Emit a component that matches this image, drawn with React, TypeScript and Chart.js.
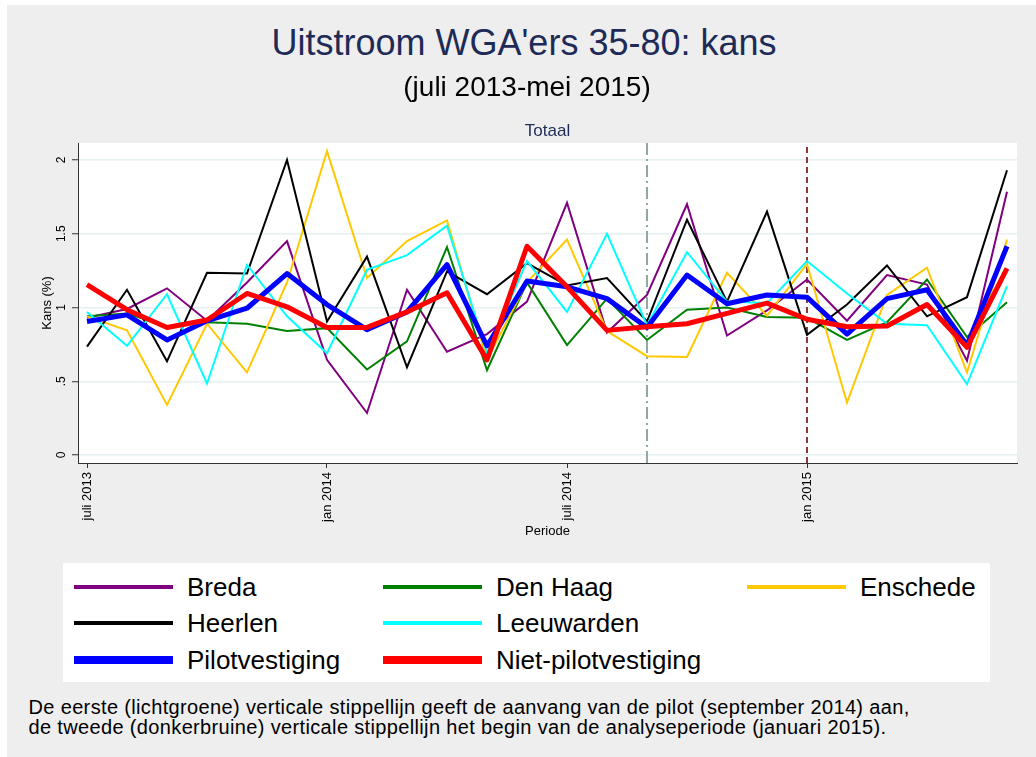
import React, { useEffect, useRef } from 'react';
import { Chart, registerables } from 'chart.js';

Chart.register(...registerables);

// ---------- data ----------
const periods = [
  'juli 2013', 'aug 2013', 'sep 2013', 'okt 2013', 'nov 2013', 'dec 2013',
  'jan 2014', 'feb 2014', 'mrt 2014', 'apr 2014', 'mei 2014', 'juni 2014',
  'juli 2014', 'aug 2014', 'sep 2014', 'okt 2014', 'nov 2014', 'dec 2014',
  'jan 2015', 'feb 2015', 'mrt 2015', 'apr 2015', 'mei 2015', 'juni 2015',
];

const breda = [0.93, 0.99, 1.13, 0.91, 1.17, 1.45, 0.645, 0.285, 1.12, 0.70, 0.82, 1.04,
  1.71, 0.83, 1.085, 1.70, 0.81, 0.98, 1.19, 0.91, 1.22, 1.155, 0.64, 1.785];
const denHaag = [0.94, 0.96, 0.87, 0.90, 0.89, 0.84, 0.86, 0.58, 0.77, 1.41, 0.575, 1.17,
  0.745, 1.06, 0.78, 0.985, 1.0, 0.935, 0.93, 0.78, 0.90, 1.19, 0.80, 1.035];
const enschede = [0.94, 0.845, 0.34, 0.89, 0.56, 1.17, 2.06, 1.20, 1.45, 1.59, 0.645, 1.17,
  1.46, 0.84, 0.67, 0.665, 1.235, 0.945, 1.295, 0.355, 1.085, 1.27, 0.56, 1.46];
const heerlen = [0.735, 1.12, 0.635, 1.235, 1.23, 2.0, 0.905, 1.345, 0.595, 1.245, 1.09, 1.30,
  1.15, 1.20, 0.905, 1.595, 1.04, 1.65, 0.815, 1.02, 1.285, 0.94, 1.07, 1.93];
const leeuwarden = [0.97, 0.74, 1.09, 0.485, 1.29, 0.94, 0.69, 1.255, 1.355, 1.555, 0.69, 1.315,
  0.97, 1.50, 0.88, 1.375, 1.04, 1.03, 1.315, 1.095, 0.89, 0.88, 0.48, 1.145];
const pilotvestiging = [0.905, 0.95, 0.78, 0.91, 0.995, 1.23, 1.02, 0.85, 0.97, 1.29, 0.74, 1.18,
  1.14, 1.06, 0.865, 1.22, 1.025, 1.085, 1.07, 0.82, 1.06, 1.12, 0.745, 1.415];
const nietPilotvestiging = [1.155, 0.985, 0.865, 0.915, 1.095, 1.005, 0.865, 0.865, 0.97, 1.10, 0.645, 1.415,
  1.14, 0.845, 0.87, 0.89, 0.96, 1.03, 0.92, 0.87, 0.875, 1.02, 0.73, 1.265];

const seriesNames = ['Breda', 'Den Haag', 'Enschede', 'Heerlen', 'Leeuwarden', 'Pilotvestiging', 'Niet-pilotvestiging'];
const seriesValues = [breda, denHaag, enschede, heerlen, leeuwarden, pilotvestiging, nietPilotvestiging];

const yTickValues = [0, 0.5, 1, 1.5, 2];
const yTickLabels = ['0', '.5', '1', '1.5', '2'];
const xTickIndices = [0, 6, 12, 18];
const pilotStartIndex = 14;     // september 2014
const analysisStartIndex = 18;  // januari 2015

// ---------- styles ----------
const FONT = "'Liberation Sans', Arial, Helvetica, sans-serif";
const seriesColors = ['#800080', '#008000', '#FFC800', '#000000', '#00FFFF', '#0000FF', '#FF0000'];
const seriesWidths = [2, 2, 2, 2, 2, 5, 5];
// legend slot (row-major, 3 columns) of every series; slot 5 is left empty
const legendSlots = [0, 1, 2, 3, 4, 6, 7];
const Y_MIN = -0.054;
const Y_MAX = 2.115;
const X_MIN = -0.225;
const X_MAX = 23.25;
const NAVY = '#1E2B57';

const plotBackground = {
  id: 'plotBackground',
  beforeDraw(chart: any) {
    const { ctx, chartArea: a } = chart;
    ctx.save();
    ctx.fillStyle = '#FFFFFF';
    ctx.fillRect(a.left, a.top, a.right - a.left, a.bottom - a.top);
    ctx.restore();
  },
};

export default function App() {
  const canvasRef = useRef<HTMLCanvasElement>(null);

  useEffect(() => {
    if (!canvasRef.current) return;
    const datasets: any[] = seriesNames.map((name, i) => ({
      label: name,
      data: seriesValues[i].map((v, k) => ({ x: k, y: v })),
      borderColor: seriesColors[i],
      backgroundColor: seriesColors[i],
      borderWidth: seriesWidths[i],
      borderJoinStyle: seriesWidths[i] > 3 ? 'round' : 'miter',
      borderCapStyle: 'butt',
      pointRadius: 0,
      tension: 0,
      fill: false,
      order: seriesNames.length - i,
    }));
    datasets.push({
      label: 'start pilot',
      data: [{ x: pilotStartIndex, y: Y_MIN }, { x: pilotStartIndex, y: Y_MAX }],
      borderColor: '#8FAAA3',
      borderWidth: 2,
      borderDash: [12, 4, 2, 4],
      pointRadius: 0,
      fill: false,
      order: 20,
    });
    datasets.push({
      label: 'start analyse',
      data: [{ x: analysisStartIndex, y: Y_MIN }, { x: analysisStartIndex, y: Y_MAX }],
      borderColor: '#8B3A3A',
      borderWidth: 2,
      borderDash: [6, 4],
      pointRadius: 0,
      fill: false,
      order: 20,
    });

    const chart = new Chart(canvasRef.current, {
      type: 'line',
      data: { datasets },
      options: {
        responsive: false,
        animation: false,
        layout: { padding: { left: 0, top: 43, right: 19, bottom: 0 } },
        plugins: {
          legend: { display: false },
          tooltip: { enabled: false },
          title: { display: false },
        },
        elements: { point: { radius: 0 } },
        scales: {
          x: {
            type: 'linear',
            min: X_MIN,
            max: X_MAX,
            afterBuildTicks: (s: any) => { s.ticks = xTickIndices.map((v) => ({ value: v })); },
            afterFit: (s: any) => { s.height = 97; },
            ticks: {
              minRotation: 90,
              maxRotation: 90,
              autoSkip: false,
              padding: 4,
              color: '#000000',
              font: { family: FONT, size: 13 },
              callback: (v: any) => periods[Math.round(Number(v))],
            },
            grid: { drawOnChartArea: false, tickLength: 5, tickColor: '#333333', tickWidth: 1 },
            border: { display: true, color: '#333333', width: 1 },
            title: {
              display: true,
              text: 'Periode',
              color: '#000000',
              font: { family: FONT, size: 13 },
              padding: { top: 0, bottom: 21 },
            },
          },
          y: {
            type: 'linear',
            min: Y_MIN,
            max: Y_MAX,
            afterBuildTicks: (s: any) => { s.ticks = yTickValues.map((v) => ({ value: v })); },
            afterFit: (s: any) => { s.width = 78; },
            ticks: {
              minRotation: 90,
              maxRotation: 90,
              crossAlign: 'center',
              padding: 2,
              color: '#000000',
              font: { family: FONT, size: 12 },
              callback: (v: any) => {
                const idx = yTickValues.indexOf(Number(v));
                return idx >= 0 ? yTickLabels[idx] : '';
              },
            },
            grid: { color: '#E6EFF1', lineWidth: 1.5, tickColor: '#333333', tickLength: 6, tickWidth: 1 },
            border: { display: true, color: '#333333', width: 1 },
            title: {
              display: true,
              text: 'Kans (%)',
              color: '#000000',
              font: { family: FONT, size: 13 },
              padding: { top: 40, bottom: 0 },
            },
          },
        },
      } as any,
      plugins: [plotBackground],
    });
    return () => chart.destroy();
  }, []);

  const sampleX = [74, 383, 747];
  const rowY = [586.7, 623.3, 660];

  return (
    <div style={{ position: 'absolute', left: 0, top: 0, width: 1036, height: 757, fontFamily: FONT, overflow: 'hidden' }}>
      <div style={{ position: 'absolute', left: 7, top: 5, width: 1029, height: 752, background: '#EEEEEE' }} />
      <canvas
        ref={canvasRef}
        width={1036}
        height={460}
        style={{ position: 'absolute', left: 0, top: 100, width: 1036, height: 460 }}
      />
      <div style={{ position: 'absolute', left: 24, width: 1000, top: 24.5, fontSize: 36, lineHeight: '36px', textAlign: 'center', color: NAVY, whiteSpace: 'nowrap' }}>
        Uitstroom WGA'ers 35-80: kans
      </div>
      <div style={{ position: 'absolute', left: 27, width: 1000, top: 73, fontSize: 28, lineHeight: '28px', textAlign: 'center', color: '#000000', whiteSpace: 'nowrap' }}>
        (juli 2013-mei 2015)
      </div>
      <div style={{ position: 'absolute', left: 447.5, width: 200, top: 122.3, fontSize: 17, lineHeight: '17px', textAlign: 'center', color: NAVY, whiteSpace: 'nowrap' }}>
        Totaal
      </div>
      <div style={{ position: 'absolute', left: 63, top: 563, width: 927, height: 119, background: '#FFFFFF' }} />
      {seriesNames.map((name, k) => {
        const slot = legendSlots[k];
        const col = slot % 3;
        const row = Math.floor(slot / 3);
        const h = seriesWidths[k] > 3 ? 8 : 4;
        return (
          <React.Fragment key={name}>
            <div style={{ position: 'absolute', left: sampleX[col], top: rowY[row] - h / 2, width: 99, height: h, background: seriesColors[k] }} />
            <div style={{ position: 'absolute', left: sampleX[col] + 113, top: rowY[row] - 18, height: 36, lineHeight: '36px', fontSize: 26, color: '#000000', whiteSpace: 'nowrap' }}>
              {name}
            </div>
          </React.Fragment>
        );
      })}
      <div style={{ position: 'absolute', left: 28.5, top: 698.3, fontSize: 20, lineHeight: '19.5px', letterSpacing: '0.35px', color: '#000000', whiteSpace: 'nowrap' }}>
        <div>De eerste (lichtgroene) verticale stippellijn geeft de aanvang van de pilot (september 2014) aan,</div>
        <div>de tweede (donkerbruine) verticale stippellijn het begin van de analyseperiode (januari 2015).</div>
      </div>
    </div>
  );
}
